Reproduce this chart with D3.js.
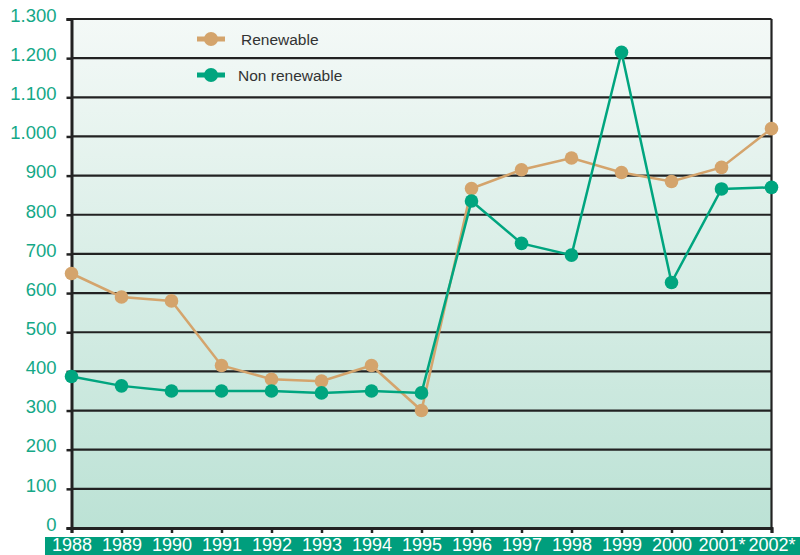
<!DOCTYPE html>
<html>
<head>
<meta charset="utf-8">
<script src="https://cdn.jsdelivr.net/npm/d3@7"></script>
<style>
  html, body { margin: 0; padding: 0; background: #fff; }
  svg { display: block; font-family: "Liberation Sans", Arial, sans-serif; }
</style>
</head>
<body>
<svg id="chart" width="800" height="555"></svg>
<script>
// --- data ---
const years = ['1988', '1989', '1990', '1991', '1992', '1993', '1994', '1995',
               '1996', '1997', '1998', '1999', '2000', '2001*', '2002*'];
const renewable = [650, 590, 580, 415, 380, 375, 415, 300, 867, 915, 945, 908, 885, 921, 1020];
const nonRenewable = [387, 363, 350, 350, 350, 345, 350, 345, 835, 727, 697, 1215, 627, 866, 870];
const yTicks = [0, 100, 200, 300, 400, 500, 600, 700, 800, 900, 1000, 1100, 1200, 1300];

const series = [
    { name: 'Renewable', values: renewable, color: '#d4a46c' },
    { name: 'Non renewable', values: nonRenewable, color: '#00a57f' }
];

const plot = { left: 71.5, right: 771.5, top: 19, bottom: 528 };
const svg = d3.select('#chart');

const x = d3.scalePoint().domain(years).range([plot.left, plot.right]);
const y = d3.scaleLinear().domain([0, 1300]).range([plot.bottom, plot.top]);

// background gradient
const defs = svg.append('defs');
const grad = defs.append('linearGradient')
    .attr('id', 'bg').attr('x1', 0).attr('y1', 0).attr('x2', 0).attr('y2', 1);
grad.append('stop').attr('offset', '0%').attr('stop-color', '#f4f9f7');
grad.append('stop').attr('offset', '100%').attr('stop-color', '#bce2d5');

svg.append('rect')
    .attr('x', plot.left).attr('y', plot.top)
    .attr('width', plot.right - plot.left).attr('height', plot.bottom - plot.top)
    .attr('fill', 'url(#bg)');

// gridlines
svg.append('g')
    .selectAll('line')
    .data(yTicks.filter(d => d > 0))
    .join('line')
    .attr('x1', plot.left).attr('x2', plot.right)
    .attr('y1', d => y(d)).attr('y2', d => y(d))
    .attr('stroke', '#222').attr('stroke-width', 2.2);

// right border
svg.append('line')
    .attr('x1', plot.right).attr('x2', plot.right)
    .attr('y1', plot.top).attr('y2', plot.bottom)
    .attr('stroke', '#222').attr('stroke-width', 2.2);

// y axis
const yAxis = svg.append('g')
    .attr('transform', `translate(${plot.left},0)`)
    .call(d3.axisLeft(y).tickValues(yTicks).tickSize(5).tickPadding(10)
        .tickFormat(d => d3.format(',')(d).replace(',', '.')));
yAxis.select('.domain').attr('stroke', '#222').attr('stroke-width', 3);
yAxis.selectAll('.tick line').attr('stroke', '#222').attr('stroke-width', 2.5);
yAxis.selectAll('.tick text')
    .attr('fill', '#14a887')
    .attr('font-size', 18.5)
    .attr('dy', '0.12em');

// bottom label band
svg.append('rect')
    .attr('x', 45).attr('y', 537)
    .attr('width', 755).attr('height', 18)
    .attr('fill', '#009e7d');

// x axis
const xAxis = svg.append('g')
    .attr('transform', `translate(0,${plot.bottom})`)
    .call(d3.axisBottom(x).tickSize(5).tickPadding(9));
xAxis.select('.domain').attr('stroke', '#222').attr('stroke-width', 3);
xAxis.selectAll('.tick line').attr('stroke', '#222').attr('stroke-width', 2.5);
xAxis.selectAll('.tick text')
    .attr('fill', '#fff')
    .attr('font-size', 18)
    .attr('dy', '0.5em');

// lines and points
const line = d3.line()
    .x((d, i) => x(years[i]))
    .y(d => y(d));

series.forEach(s => {
    svg.append('path')
        .datum(s.values)
        .attr('d', line)
        .attr('fill', 'none')
        .attr('stroke', s.color)
        .attr('stroke-width', 2.5);
    svg.append('g')
        .selectAll('circle')
        .data(s.values)
        .join('circle')
        .attr('cx', (d, i) => x(years[i]))
        .attr('cy', d => y(d))
        .attr('r', 6.8)
        .attr('fill', s.color);
});

// legend
const legend = svg.append('g');
series.forEach((s, i) => {
    const ly = 39 + i * 36;
    legend.append('line')
        .attr('x1', 197).attr('x2', 225)
        .attr('y1', ly).attr('y2', ly)
        .attr('stroke', s.color).attr('stroke-width', 5);
    legend.append('circle')
        .attr('cx', 211).attr('cy', ly).attr('r', 7)
        .attr('fill', s.color);
    legend.append('text')
        .attr('x', i === 0 ? 241 : 238)
        .attr('y', ly + 5.5)
        .attr('font-size', 15.5)
        .attr('fill', '#333')
        .text(s.name);
});
</script>
</body>
</html>
